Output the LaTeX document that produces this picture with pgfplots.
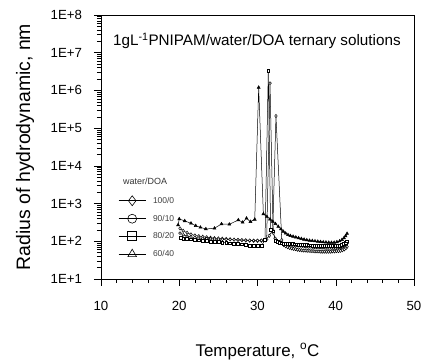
\documentclass[border=0pt]{standalone}
\usepackage{pgfplots}
\pgfplotsset{compat=1.18}
\usepackage{fontspec}
\setmainfont{Liberation Sans}

\pgfplotstableread{
T R
20.1 220
20.5 190
21.0 168
21.5 152
22.0 143
22.5 137
23.0 132
23.5 128
24.0 124
24.5 121
25.0 119
25.5 117
26.0 115
26.5 113
27.0 111
27.5 109
28.0 107
28.5 105
29.0 104
29.5 103
30.0 102
30.5 103
31.0 106
31.5 140
31.95 200
32.36 210000
33.1 108
33.35 80
33.6 74
33.85 70
34.1 67
34.35 65
34.6 63
34.85 62
35.1 60
35.35 59
35.6 58
35.85 57
36.1 57
36.35 56
36.6 56
36.85 55
37.1 55
37.35 54
37.6 54
37.85 54
38.1 53
38.35 53
38.6 53
38.85 53
39.1 53
39.35 53
39.6 54
39.85 54
40.1 55
40.35 55
40.6 56
40.85 58
41.1 61
41.3 66
41.45 72
}\dataA

\pgfplotstableread{
T R
20.1 165
20.5 148
21.0 137
21.5 130
22.0 125
22.5 122
23.0 120
23.5 118
24.0 116
24.5 115
25.0 114
25.5 113
26.0 112
26.5 111
27.0 110
27.5 109
28.0 108
28.5 107
29.0 106
29.5 105
30.0 105
30.5 106
31.17 112
31.6 1560000
32.0 165
32.25 120
32.5 100
32.75 93
33.0 90
33.25 87
33.5 85
33.75 83
34.0 82
34.25 80
34.5 79
34.75 78
35.0 77
35.25 76
35.5 75
35.75 74
36.0 73
36.25 72
36.5 71
36.75 71
37.0 70
37.25 69
37.5 69
37.75 68
38.0 68
38.25 67
38.5 67
38.75 66
39.0 66
39.25 66
39.5 66
39.75 66
40.0 66
40.25 67
40.5 68
40.75 70
41.0 73
41.25 79
41.45 88
}\dataB

\pgfplotstableread{
T R
20.2 122
20.5 118
21.0 116
21.5 113
22.0 110
22.5 107
23.0 104
23.5 101
24.0 99
24.5 97
25.0 95
25.5 93
26.0 91
26.5 89
27.0 87
27.5 85
28.0 83
28.5 80
29.0 78
29.5 76
30.0 75
30.5 76
30.96 108
31.38 3300000
31.68 200
32.0 185
32.3 105
32.55 95
32.8 91
33.05 89
33.3 88
33.55 87
33.8 86
34.05 85
34.3 84
34.55 84
34.8 83
35.05 83
35.3 82
35.55 82
35.8 81
36.05 80
36.3 80
36.55 79
36.8 79
37.05 78
37.3 78
37.55 77
37.8 77
38.05 76
38.3 76
38.55 76
38.8 75
39.05 75
39.3 75
39.55 75
39.8 75
40.05 76
40.3 77
40.55 78
40.8 80
41.05 84
41.25 90
41.45 100
}\dataC

\pgfplotstableread{
T R
19.85 270
20.0 390
20.7 347
21.5 300
22.1 259
22.7 234
23.4 212
24.5 221
25.4 288
26.4 282
27.55 367
28.1 318
28.6 407
29.1 331
29.65 380
30.15 1200000
30.75 530
31.2 450
31.6 385
31.95 335
32.3 290
32.65 245
33.0 210
33.3 182
33.6 162
33.9 148
34.2 140
34.55 134
34.9 128
35.25 122
35.6 117
35.95 112
36.3 108
36.65 105
37.0 103
37.35 101
37.7 99
38.05 97
38.4 95
38.75 94
39.1 93
39.45 92
39.8 93
40.15 96
40.5 101
40.8 110
41.05 122
41.25 138
41.45 160
}\dataD

\begin{document}
\begin{tikzpicture}
\begin{axis}[
  scale only axis, width=313bp, height=264bp,
  xmin=10, xmax=50, ymin=10, ymax=1e8, ymode=log,
  xtick={10,20,30,40,50}, xticklabels={10,20,30,40,50},
  minor x tick num=4,
  ytick={1e1,1e2,1e3,1e4,1e5,1e6,1e7,1e8},
  yticklabels={1E+1,1E+2,1E+3,1E+4,1E+5,1E+6,1E+7,1E+8},
  tick pos=left, tick align=outside,
  major tick length=7bp, minor tick length=4bp,
  every tick/.style={black, line width=0.5bp},
  axis line style={black, line width=0.6bp},
  ticklabel style={font=\fontsize{13.3}{15}\selectfont},
  yticklabel style={xshift=-8.5bp},
  xticklabel style={yshift=-12bp},
  xlabel={Temperature, \textsuperscript{o}C},
  ylabel={Radius of hydrodynamic, nm},
  xlabel style={font=\fontsize{17}{20}\selectfont, at={(axis description cs:0.5,-0.2917)}, anchor=base},
  ylabel style={font=\fontsize{19.5}{22}\selectfont, at={(axis description cs:-0.2428,0.5)}, anchor=center},
  legend style={at={(axis description cs:0.055,0.316)}, anchor=north west, draw=none, fill=none,
    font=\fontsize{8.5}{10}\selectfont, text=black!75, row sep=8.5bp, inner sep=0pt,
    nodes={inner sep=0pt}},
  legend cell align=left,
  legend image code/.code={\draw[mark repeat=2,mark phase=2] plot coordinates {(0bp,0bp)(13.5bp,0bp)(27bp,0bp)};},
  /tikz/every odd column/.append style={column sep=7bp},
]
\addlegendimage{black, line width=0.6bp, mark=diamond, mark size=5pt, mark options={fill=white, solid}}
\addlegendentry{100/0}
\addlegendimage{black, line width=0.6bp, mark=o, mark size=4.5pt, mark options={fill=white, solid}}
\addlegendentry{90/10}
\addlegendimage{black, line width=0.6bp, mark=square, mark size=4.5pt, mark options={fill=white, solid}}
\addlegendentry{80/20}
\addlegendimage{black, line width=0.6bp, mark=triangle, mark size=5pt, mark options={fill=white, solid}}
\addlegendentry{60/40}

\addplot[black, line width=0.5bp, mark=diamond*, mark size=1.7pt, mark options={fill=white}, forget plot] table[x=T, y=R] {\dataA};
\addplot[black, line width=0.5bp, mark=*, mark size=1.4pt, mark options={fill=white}, forget plot] table[x=T, y=R] {\dataB};
\addplot[black, line width=0.5bp, mark=square*, mark size=1.4pt, mark options={fill=white}, forget plot] table[x=T, y=R] {\dataC};
\addplot[black, line width=0.5bp, mark=triangle*, mark size=1.7pt, mark options={fill=black}, forget plot] table[x=T, y=R] {\dataD};

\node[anchor=base west, inner sep=0pt, font=\fontsize{15.3}{18}\selectfont] at (axis description cs:0.038,0.8826) {1gL\textsuperscript{-1}PNIPAM/water/DOA ternary solutions};
\node[anchor=base west, inner sep=0pt, font=\fontsize{9}{10}\selectfont, text=black!80] at (axis description cs:0.0703,0.358) {water/DOA};
\end{axis}
\path (current axis.south west) ++(-101bp,-83bp) coordinate (BBa);
\path (current axis.north east) ++(11bp,15bp) coordinate (BBb);
\pgfresetboundingbox
\path (BBa) rectangle (BBb);
\end{tikzpicture}
\end{document}
